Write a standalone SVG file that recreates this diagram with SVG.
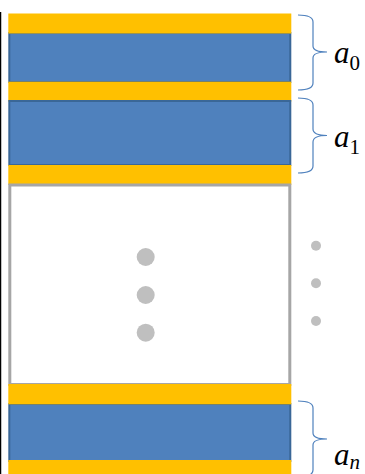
<svg xmlns="http://www.w3.org/2000/svg" width="365" height="474" viewBox="0 0 365 474">
<style>
.blue{fill:#4F81BD;stroke:#3A6797;stroke-width:2}
.yel{fill:#FFC000}
.brace{fill:none;stroke:#4F81BD;stroke-width:1.2}
.lbl{font-family:"Liberation Serif",serif;font-style:italic;font-size:31px;fill:#000}
.sub{font-family:"Liberation Serif",serif;font-style:normal;font-size:21px;fill:#000}
.subi{font-family:"Liberation Serif",serif;font-style:italic;font-size:21px;fill:#000}
.big{fill:#BFBFBF}
</style>
<rect width="365" height="474" fill="#fff"/>
<line x1="0.5" y1="12" x2="0.5" y2="474" stroke="#000" stroke-width="1.5"/>
<g id="layer0">
<rect class="blue" x="9.3" y="33" width="281" height="49"/>
<rect class="yel" x="8.3" y="13.5" width="283" height="20"/>
<rect class="yel" x="8.3" y="81.7" width="283" height="20"/>
</g>
<g id="layer1">
<rect class="blue" x="9.3" y="101" width="281" height="64"/>
<rect class="yel" x="8.3" y="165" width="283" height="20"/>
</g>
<g id="gap">
<rect x="9.8" y="185" width="280" height="199.5" fill="#fff" stroke="#A6A6A6" stroke-width="3"/>
<circle class="big" cx="145.7" cy="257" r="9"/>
<circle class="big" cx="145.7" cy="295" r="9"/>
<circle class="big" cx="145.7" cy="332.7" r="9"/>
<circle class="big" cx="316" cy="245.7" r="5"/>
<circle class="big" cx="316" cy="283.3" r="5"/>
<circle class="big" cx="316" cy="321" r="5"/>
</g>
<g id="layern">
<rect class="blue" x="9.3" y="404" width="281" height="57"/>
<rect class="yel" x="8.3" y="384" width="283" height="20.3"/>
<rect class="yel" x="8.3" y="460" width="283" height="15"/>
</g>
<g id="connectors">
<path class="brace" d="M298,15 Q313,15 313,22 L313,46 Q313,52 327,52 Q313,52 313,58 L313,83 Q313,90 298,90"/>
<path class="brace" d="M298,98 Q313,98 313,105 L313,129 Q313,135.5 327,135.5 Q313,135.5 313,142 L313,166 Q313,173 298,173"/>
<path class="brace" d="M298,401 Q313,401 313,408 L313,433 Q313,439 327,439 Q313,439 313,445 L313,470 Q313,477 298,477"/>
</g>
<g id="label0"><text class="lbl" x="334" y="63">a<tspan class="sub" dy="7">0</tspan></text></g>
<g id="label1"><text class="lbl" x="334" y="147">a<tspan class="sub" dy="7">1</tspan></text></g>
<g id="labeln"><text class="lbl" x="334" y="465">a<tspan class="subi" dy="4">n</tspan></text></g>
</svg>
